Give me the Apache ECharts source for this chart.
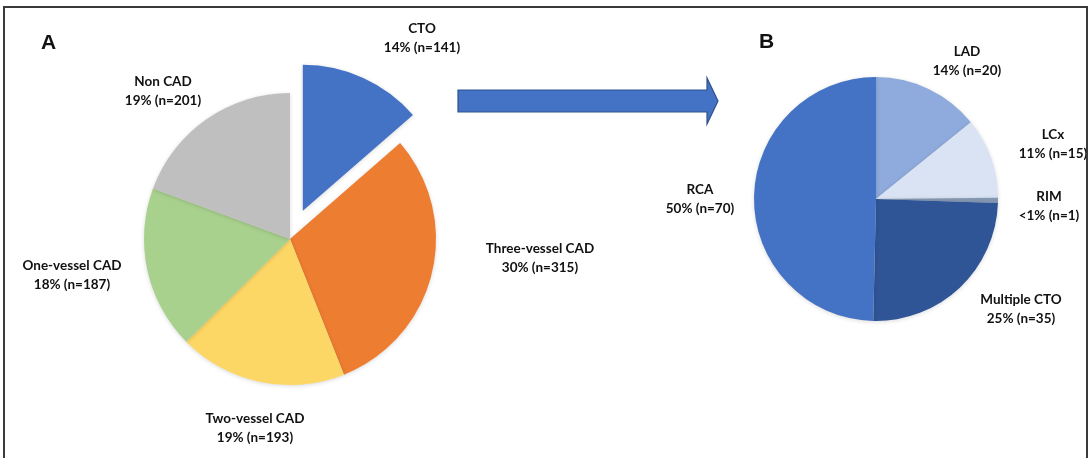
<!DOCTYPE html>
<html>
<head>
<meta charset="utf-8">
<script src="https://cdn.jsdelivr.net/npm/echarts@6/dist/echarts.min.js"></script>
<style>
  html, body { margin: 0; padding: 0; background: #fff; }
  #chart { width: 1091px; height: 458px; }
</style>
</head>
<body>
<div id="chart"></div>
<script>
// panel A: CTO prevalence among all patients
const catsA = ['CTO', 'Three-vessel CAD', 'Two-vessel CAD', 'One-vessel CAD', 'Non CAD'];
const countsA = [141, 315, 193, 187, 201];
const colorsA = ['#4472C4', '#ED7D31', '#FDD766', '#A9D18E', '#BFBFBF'];

// panel B: location of the CTO
const catsB = ['LAD', 'LCx', 'RIM', 'Multiple CTO', 'RCA'];
const countsB = [20, 15, 1, 35, 70];
const colorsB = ['#8FAADC', '#DAE3F3', '#8497B0', '#2F5597', '#4472C4'];

// label anchor points (centre of the two-line label)
const labelPosA = [[422, 38], [540, 258], [255, 428], [72, 275], [163, 91]];
const labelPosB = [[967, 61], [1053, 144], [1049, 206], [1021, 309], [700, 199]];

const FONT = 'Lato, "Liberation Sans", sans-serif';

function pctText(n, total) {
    const p = n / total * 100;
    return p < 1 ? '<1%' : Math.round(p) + '%';
}

function buildData(cats, counts, colors) {
    const total = counts.reduce((a, b) => a + b, 0);
    return cats.map((c, i) => ({
        name: c,
        value: counts[i],
        pct: pctText(counts[i], total),
        itemStyle: { color: colors[i] }
    }));
}

const dataA = buildData(catsA, countsA, colorsA);
dataA[0].selected = true;
const dataB = buildData(catsB, countsB, colorsB);

// slice labels as free text (the selected slice label would otherwise move with the slice)
function labelTexts(data, pos) {
    return data.map((d, i) => ({
        type: 'text',
        x: pos[i][0],
        y: pos[i][1],
        style: {
            text: d.name + '\n' + d.pct + ' (n=' + d.value + ')',
            font: 'bold 13.5px ' + FONT,
            lineHeight: 19,
            fill: '#111',
            align: 'center',
            verticalAlign: 'middle'
        }
    }));
}

const chart = echarts.init(document.getElementById('chart'), null, { renderer: 'canvas' });

const sliceStyle = { borderWidth: 0, shadowBlur: 4, shadowColor: 'rgba(0,0,0,0.15)', shadowOffsetY: 1 };

const option = {
    animation: false,
    backgroundColor: '#fff',
    series: [
        {
            type: 'pie',
            center: [290, 239],
            radius: 146,
            startAngle: 90,
            clockwise: true,
            selectedMode: 'single',
            selectedOffset: 31,
            label: { show: false },
            labelLine: { show: false },
            itemStyle: sliceStyle,
            emphasis: { disabled: true },
            data: dataA
        },
        {
            type: 'pie',
            center: [876, 199],
            radius: 122,
            startAngle: 90,
            clockwise: true,
            label: { show: false },
            labelLine: { show: false },
            itemStyle: sliceStyle,
            emphasis: { disabled: true },
            data: dataB
        }
    ],
    graphic: [
        // outer frame
        {
            type: 'rect',
            shape: { x: 4, y: 7, width: 1083, height: 470 },
            style: { fill: 'none', stroke: '#3a3a3a', lineWidth: 2 },
            z: 10
        },
        {
            type: 'text',
            left: 41, top: 33,
            style: { text: 'A', font: 'bold 21px "Liberation Sans", Arial, sans-serif', fill: '#111' }
        },
        {
            type: 'text',
            left: 759, top: 32,
            style: { text: 'B', font: 'bold 21px "Liberation Sans", Arial, sans-serif', fill: '#111' }
        },
        // arrow from A to B
        {
            type: 'polygon',
            shape: {
                points: [[458, 90], [707, 90], [707, 78], [718, 101], [707, 124], [707, 112], [458, 112]]
            },
            style: { fill: '#4472C4', stroke: '#2F528F', lineWidth: 1.2 }
        }
    ].concat(labelTexts(dataA, labelPosA), labelTexts(dataB, labelPosB))
};

chart.setOption(option);
window.addEventListener('resize', () => chart.resize());
</script>
</body>
</html>
